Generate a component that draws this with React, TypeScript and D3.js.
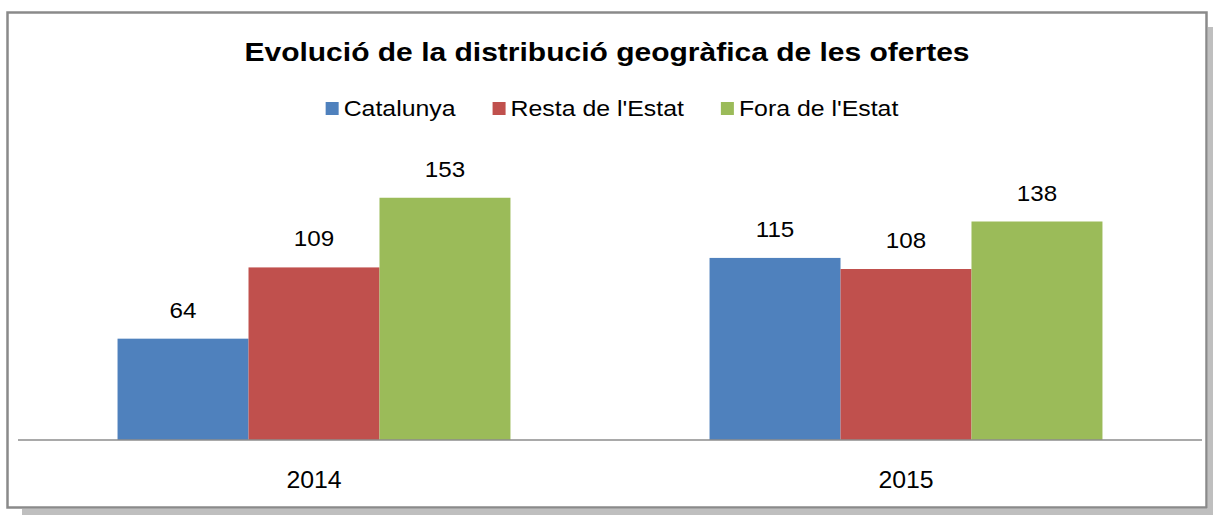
import React, { useEffect, useRef } from "react";
import * as d3 from "d3";

const years = ["2014", "2015"];
const seriesNames = ["Catalunya", "Resta de l'Estat", "Fora de l'Estat"];
const catalunya = [64, 115];
const restaEstat = [109, 108];
const foraEstat = [153, 138];
const colors = ["#4F81BD", "#C0504D", "#9BBB59"];
const title = "Evolució de la distribució geogràfica de les ofertes";

const W = 1213;
const H = 515;
const FONT = "'Liberation Sans', Arial, sans-serif";

export default function App() {
  const ref = useRef<SVGSVGElement>(null);

  useEffect(() => {
    const svg = d3.select(ref.current);
    svg.selectAll("*").remove();

    const values = [catalunya, restaEstat, foraEstat];

    // shadow + frame
    svg.append("rect").attr("x", 1208).attr("y", 27).attr("width", 5).attr("height", 488).attr("fill", "#bfbfbf");
    svg.append("rect").attr("x", 22).attr("y", 509).attr("width", 1191).attr("height", 6).attr("fill", "#bfbfbf");
    svg
      .append("rect")
      .attr("x", 7.5)
      .attr("y", 12.5)
      .attr("width", 1199)
      .attr("height", 495)
      .attr("fill", "#fff")
      .attr("stroke", "#8a8a8a")
      .attr("stroke-width", 2.5);

    // text in the original is a bit wider than the fonts here
    svg
      .append("text")
      .attr("transform", "translate(607,61) scale(1.2,1)")
      .attr("text-anchor", "middle")
      .style("font-family", FONT)
      .style("font-weight", "bold")
      .style("font-size", "25px")
      .text(title);

    const x0 = d3.scaleBand().domain(years).range([18, 1202]);
    const x1 = d3
      .scaleBand()
      .domain(seriesNames)
      .range([0, x0.bandwidth()])
      .paddingInner(0)
      .paddingOuter(0.76);
    const y = d3.scaleLinear().domain([0, 180]).range([440, 155]);

    const groups = svg
      .selectAll(".grp")
      .data(years)
      .join("g")
      .attr("class", "grp")
      .attr("transform", (d) => `translate(${x0(d)},0)`);

    seriesNames.forEach((s, si) => {
      groups
        .append("rect")
        .attr("x", x1(s)!)
        .attr("y", (d, i) => y(values[si][i]))
        .attr("width", x1.bandwidth())
        .attr("height", (d, i) => y(0) - y(values[si][i]))
        .attr("fill", colors[si]);

      groups
        .append("text")
        .attr(
          "transform",
          (d, i) =>
            `translate(${x1(s)! + x1.bandwidth() / 2},${y(values[si][i]) - 21}) scale(1.1,1)`
        )
        .attr("text-anchor", "middle")
        .style("font-family", FONT)
        .style("font-size", "22px")
        .text((d, i) => values[si][i]);
    });

    // axis
    svg
      .append("line")
      .attr("x1", 18)
      .attr("x2", 1202)
      .attr("y1", 440)
      .attr("y2", 440)
      .attr("stroke", "#8c8c8c")
      .attr("stroke-width", 1.5);

    svg
      .selectAll(".xlab")
      .data(years)
      .join("text")
      .attr("class", "xlab")
      .attr("transform", (d) => `translate(${x0(d)! + x0.bandwidth() / 2},488) scale(1.08,1)`)
      .attr("text-anchor", "middle")
      .style("font-family", FONT)
      .style("font-size", "23px")
      .text((d) => d);

    // legend
    const legend = svg.append("g");
    const sx = 1.13;
    let cx = 0;
    seriesNames.forEach((s, i) => {
      const item = legend.append("g").attr("transform", `translate(${cx},0)`);
      item.append("rect").attr("x", 0).attr("y", 102).attr("width", 13).attr("height", 13).attr("fill", colors[i]);
      const t = item
        .append("text")
        .attr("transform", `translate(18,116) scale(${sx},1)`)
        .style("font-family", FONT)
        .style("font-size", "22px")
        .text(s);
      const tw = (t.node() as SVGTextElement).getComputedTextLength() * sx;
      cx += 18 + tw + (i < seriesNames.length - 1 ? 37 : 0);
    });
    legend.attr("transform", `translate(${612 - cx / 2},0)`);
  }, []);

  return (
    <svg
      ref={ref}
      width={W}
      height={H}
      style={{ position: "absolute", left: 0, top: 0, background: "#fff" }}
    />
  );
}
